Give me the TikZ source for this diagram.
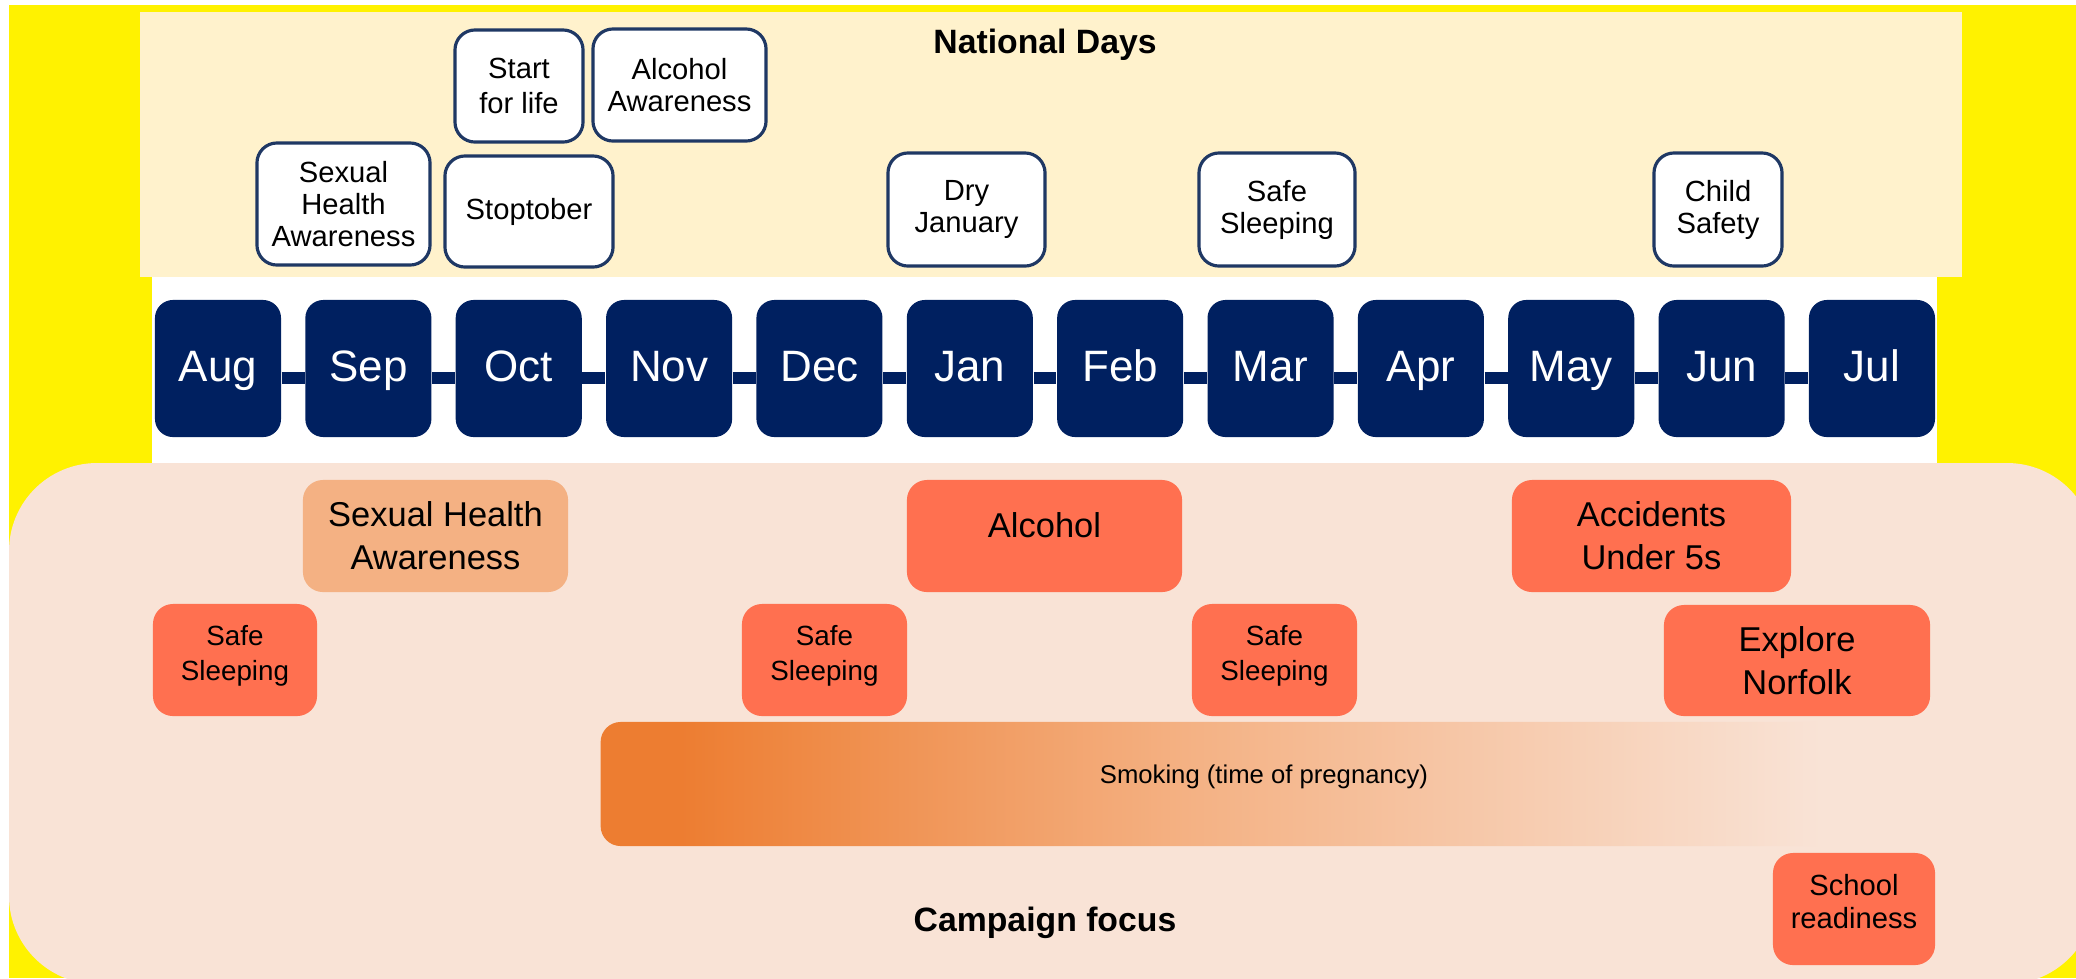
\documentclass[tikz,border=0pt]{standalone}
\usepackage{fontspec}
\setmainfont{Liberation Sans}

\definecolor{navy}{HTML}{002060}
\definecolor{dayline}{HTML}{1F3864}
\definecolor{cream}{HTML}{FFF2CC}
\definecolor{campbg}{HTML}{F9E3D6}
\definecolor{coral}{HTML}{FF7050}
\definecolor{peach}{HTML}{F4B183}
\definecolor{smokedark}{HTML}{ED7D31}
\definecolor{smokemid}{HTML}{F4B183}

% orange bar that fades out into the panel
\pgfdeclarehorizontalshading{smokefade}{100bp}{color(0bp)=(smokedark); color(28bp)=(smokedark); color(47bp)=(smokemid); color(71bp)=(campbg); color(100bp)=(campbg)}

\begin{document}
\begin{tikzpicture}[x=0.01cm, y=-0.01cm,
    month/.style = {fill=navy, text=white, rounded corners=0.18cm, inner sep=0,
                    minimum width=1.26cm, minimum height=1.37cm,
                    text height=0.72em, text depth=0pt,
                    font=\fontsize{12.5}{14}\selectfont},
    monthlink/.style = {navy, line width=0.12cm},
    day/.style = {draw=dayline, line width=0.9pt, fill=white, rounded corners=0.2cm,
                  inner sep=0, align=center, font=\fontsize{8.3}{9.1}\selectfont},
    focus/.style = {fill=coral, rounded corners=0.2cm, inner sep=0, align=center,
                    font=\fontsize{9.8}{12.2}\selectfont},
    smallfocus/.style = {focus, font=\fontsize{7.9}{9.8}\selectfont},
    title/.style = {font=\bfseries\fontsize{9.6}{11}\selectfont}]

    \useasboundingbox (0,0) rectangle (2076,978);
    \clip (0,0) rectangle (2076,978);

    % backdrop
    \fill[white] (0,0) rectangle (2076,978);
    \fill[yellow] (9,5) rectangle (2076,978);
    \fill[cream] (140,12) rectangle (1962,277);
    \fill[white] (152,277) rectangle (1937,463);
    \fill[campbg, rounded corners=0.88cm] (9,463) rectangle (2095,984);

    \node[title] (natdays) at (1045,45) {National Days};
    \node[title] (campfocus) at (1045,923) {Campaign focus};

    % national days
    \node[day, minimum width=1.73cm, minimum height=1.22cm] (sexday) at (343.5,204) {Sexual\\Health\\Awareness};
    \node[day, minimum width=1.68cm, minimum height=1.11cm] (stoptober) at (529,211.5) {Stoptober};
    \node[day, minimum width=1.28cm, minimum height=1.12cm] (startlife) at (519,86) {Start\\[1pt]for life};
    \node[day, minimum width=1.73cm, minimum height=1.12cm] (alcday) at (679.5,85) {Alcohol\\Awareness};
    \node[day, minimum width=1.57cm, minimum height=1.13cm] (dryjan) at (966.5,209.5) {Dry\\January};
    \node[day, minimum width=1.56cm, minimum height=1.13cm] (safeday) at (1277,209.5) {Safe\\Sleeping};
    \node[day, minimum width=1.28cm, minimum height=1.13cm] (childsafety) at (1718,209.5) {Child\\Safety};

    % months
    \foreach \m [count=\i from 0] in {Aug,Sep,Oct,Nov,Dec,Jan,Feb,Mar,Apr,May,Jun,Jul}
        \node[month] (\m) at ({218+150.36*\i},368.5) {\m};
    \foreach \a/\b in {Aug/Sep,Sep/Oct,Oct/Nov,Nov/Dec,Dec/Jan,Jan/Feb,Feb/Mar,Mar/Apr,Apr/May,May/Jun,Jun/Jul}
        \draw[monthlink] ([yshift=-0.095cm]\a.east) -- ([yshift=-0.095cm]\b.west);

    % campaigns
    \node[focus, fill=peach, minimum width=2.65cm, minimum height=1.12cm] (sexcamp) at (435.5,536) {Sexual Health\\Awareness};
    \node[focus, text depth=6pt, minimum width=2.75cm, minimum height=1.12cm] (alcohol) at (1044.5,536) {Alcohol};
    \node[focus, minimum width=2.79cm, minimum height=1.12cm] (accidents) at (1651.5,536) {Accidents\\Under 5s};
    \node[smallfocus, text depth=4pt, minimum width=1.64cm, minimum height=1.12cm] (safeA) at (235,660) {Safe\\Sleeping};
    \node[smallfocus, text depth=4pt, minimum width=1.65cm, minimum height=1.12cm] (safeB) at (824.5,660) {Safe\\Sleeping};
    \node[smallfocus, text depth=4pt, minimum width=1.65cm, minimum height=1.12cm] (safeC) at (1274.5,660) {Safe\\Sleeping};
    \node[focus, minimum width=2.66cm, minimum height=1.11cm] (explore) at (1797,660.5) {Explore\\Norfolk};
    \node[rounded corners=0.2cm, shading=smokefade, inner sep=0, text depth=5.5pt,
          minimum width=13.26cm, minimum height=1.24cm,
          font=\fontsize{7.3}{9}\selectfont] (smoking) at (1264,784) {Smoking (time of pregnancy)};
    \node[smallfocus, font=\fontsize{8.3}{9.4}\selectfont, text depth=4.5pt,
          minimum width=1.62cm, minimum height=1.12cm] (school) at (1854,909) {School\\readiness};
\end{tikzpicture}
\end{document}
